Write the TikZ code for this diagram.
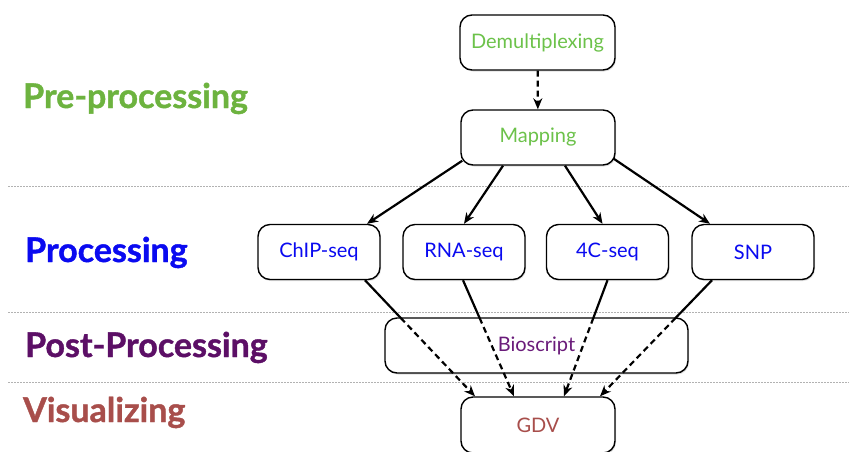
\documentclass[tikz,border=0pt]{standalone}
\usepackage{fontspec}
\setmainfont{Lato}
\newfontfamily\stagefont{Lato}[BoldFeatures={FakeBold=1.2}]
\usetikzlibrary{arrows.meta,shadows,calc}
\definecolor{preclr}{HTML}{6DB33F}
\definecolor{lightgrn}{HTML}{6CC24A}
\definecolor{procclr}{HTML}{0A0AF0}
\definecolor{postclr}{HTML}{5C0F66}
\definecolor{bioclr}{HTML}{6A1B7A}
\definecolor{visclr}{HTML}{A84E4B}
\begin{document}
\begin{tikzpicture}[x=1pt,y=-1pt,
  box/.style={draw,line width=1.4pt,rounded corners=12pt,fill=white,inner sep=0pt,
    minimum height=55pt,font=\fontsize{20}{22}\selectfont,
    drop shadow={opacity=0.25,shadow xshift=1pt,shadow yshift=-1.5pt}},
  stage/.style={anchor=base west,inner sep=0pt,font=\stagefont\fontsize{34}{36}\selectfont\bfseries},
  sep/.style={gray!60,dash pattern=on 2pt off 1pt,line width=0.6pt},
  link/.style={line width=2.2pt,-{Stealth[length=11pt,width=9pt]}}]
\useasboundingbox (0,0) rectangle (849,451);

\draw[sep] (8,186) -- (849,186);
\draw[sep] (8,312) -- (849,312);
\draw[sep] (8,382) -- (849,382);

\node[stage,text=preclr] (pre) at (23,108) {Pre-processing};
\node[stage,text=procclr] (proc) at (25,262) {Processing};
\node[stage,text=postclr] (post) at (25,357) {Post-Processing};
\node[stage,text=visclr] (vis) at (23,422) {Visualizing};

\node[box,minimum width=155pt,text=lightgrn] (demux) at (537.5,42.5) {Demultiplexing};
\node[box,minimum width=154pt,text=lightgrn] (map) at (538,137.5) {Mapping};
\node[box,minimum width=122pt,text=procclr] (chip) at (319,252) {ChIP-seq};
\node[box,minimum width=122pt,text=procclr] (rna) at (464,252) {RNA-seq};
\node[box,minimum width=122pt,text=procclr] (fourc) at (607.5,252) {4C-seq};
\node[box,minimum width=122pt,text=procclr] (snp) at (753,252) {SNP};
\node[box,minimum width=303pt,text=bioclr] (bio) at (536.5,345.5) {Bioscript};
\node[box,minimum width=154pt,minimum height=56pt,text=visclr] (gdv) at (538,425) {GDV};

\draw[link,dash pattern=on 6pt off 4pt] (demux) -- (map);

\draw[link] ([xshift=2pt,yshift=5pt]map.south west) -- ([xshift=48pt]chip.north);
\draw[link] ([xshift=-35pt]map.south) -- (rna.north);
\draw[link] ([xshift=27pt]map.south) -- ([xshift=-5pt]fourc.north);
\draw[link] ([xshift=-2pt,yshift=7pt]map.south east) -- ([xshift=-43pt]snp.north);

\foreach \src/\sx/\ex in {chip/46/-63,rna/-1/-24,fourc/0/26,snp/-41/62} {
  \coordinate (s) at ([xshift=\sx pt]\src.south);
  \coordinate (e) at ([xshift=\ex pt]gdv.north);
  \draw[line width=2.2pt] (s) -- ($(s)!0.325!(e)$);
  \draw[link,dash pattern=on 6pt off 4pt] ($(s)!0.325!(e)$) -- (e);
}
\end{tikzpicture}
\end{document}
